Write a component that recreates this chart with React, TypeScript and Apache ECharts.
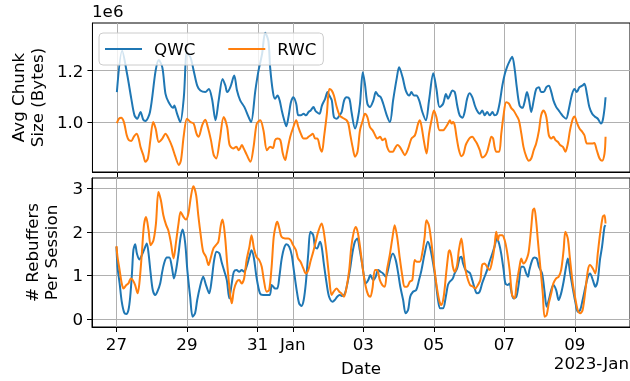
import React, { useEffect, useRef } from "react";
import * as echarts from "echarts";

// x values are days since 2022-12-27 00:00
const xTickDays = [0, 2, 4, 5, 7, 9, 11, 13];
const xTickLabels = ["27", "29", "31", "Jan", "03", "05", "07", "09"];
const chunkTicks = [1.0, 1.2];
const rebufTicks = [0, 1, 2, 3];
const seriesNames = ["QWC", "RWC"];

// Avg chunk size, in units of 1e6 bytes
const qwcChunk = [
  [0, 1.117], [0.15, 1.277], [0.29, 1.187], [0.41, 1.091], [0.5, 1.027], [0.58, 1.014], [0.67, 1.04], [0.75, 1.01],
  [0.81, 1.005], [0.94, 1.04], [1.1, 1.2], [1.19, 1.241], [1.29, 1.213], [1.38, 1.11], [1.47, 1.078], [1.6, 1.056],
  [1.63, 1.065], [1.71, 1.033], [1.8, 1.001], [1.9, 1.097], [1.99, 1.271], [2.09, 1.251], [2.18, 1.2], [2.28, 1.142],
  [2.37, 1.123], [2.51, 1.117], [2.61, 1.129], [2.7, 1.091], [2.8, 1.008], [2.89, 1.085], [3.0, 1.168], [3.08, 1.142],
  [3.13, 1.117], [3.22, 1.136], [3.33, 1.181], [3.41, 1.123], [3.5, 1.085], [3.62, 1.059], [3.74, 1.02], [3.81, 1.001],
  [3.93, 1.123], [4.02, 1.2], [4.12, 1.264], [4.21, 1.347], [4.3, 1.315], [4.35, 1.213], [4.43, 1.117], [4.49, 1.091],
  [4.56, 1.104], [4.62, 1.085], [4.68, 1.046], [4.75, 1.008], [4.81, 0.985], [4.87, 1.021], [4.94, 1.078], [5.01, 1.097],
  [5.09, 1.072], [5.15, 1.027], [5.22, 1.027], [5.3, 1.033], [5.37, 1.027], [5.44, 1.04], [5.5, 1.046], [5.58, 1.059],
  [5.63, 1.046], [5.67, 1.04], [5.75, 1.033], [5.82, 1.065], [5.91, 1.091], [5.98, 1.117], [6.03, 1.104], [6.1, 1.085],
  [6.16, 1.021], [6.24, 1.014], [6.32, 1.027], [6.38, 1.04], [6.45, 1.085], [6.52, 1.097], [6.6, 1.091], [6.66, 1.04],
  [6.76, 0.976], [6.83, 1.008], [6.9, 1.072], [6.98, 1.194], [7.04, 1.149], [7.11, 1.072], [7.18, 1.059], [7.28, 1.085],
  [7.35, 1.117], [7.42, 1.104], [7.49, 1.097], [7.56, 1.072], [7.66, 1.027], [7.75, 1.001], [7.84, 1.085], [7.94, 1.168],
  [8.01, 1.213], [8.11, 1.174], [8.2, 1.123], [8.3, 1.104], [8.36, 1.117], [8.43, 1.104], [8.5, 1.104], [8.58, 1.085],
  [8.67, 1.04], [8.77, 1.008], [8.86, 1.085], [8.98, 1.19], [9.07, 1.129], [9.16, 1.059], [9.26, 1.072], [9.34, 1.11],
  [9.4, 1.091], [9.45, 1.104], [9.52, 1.123], [9.59, 1.117], [9.66, 1.065], [9.73, 1.027], [9.81, 1.018], [9.87, 1.04],
  [9.94, 1.091], [10.01, 1.113], [10.09, 1.097], [10.16, 1.065], [10.22, 1.046], [10.3, 1.033], [10.37, 1.046], [10.44, 1.027],
  [10.51, 1.04], [10.58, 1.027], [10.66, 1.04], [10.72, 1.027], [10.79, 1.033], [10.86, 1.072], [10.94, 1.142], [11.01, 1.187],
  [11.07, 1.213], [11.15, 1.238], [11.22, 1.254], [11.29, 1.206], [11.35, 1.136], [11.43, 1.065], [11.51, 1.056], [11.57, 1.078],
  [11.64, 1.117], [11.7, 1.085], [11.76, 1.04], [11.83, 1.085], [11.9, 1.129], [11.98, 1.136], [12.04, 1.117], [12.11, 1.117],
  [12.19, 1.136], [12.26, 1.142], [12.33, 1.117], [12.39, 1.085], [12.47, 1.059], [12.54, 1.046], [12.61, 1.033], [12.68, 1.021],
  [12.75, 1.014], [12.83, 1.053], [12.92, 1.11], [12.99, 1.129], [13.05, 1.117], [13.13, 1.136], [13.21, 1.142], [13.27, 1.149],
  [13.34, 1.11], [13.41, 1.059], [13.49, 1.033], [13.56, 1.023], [13.65, 1.014], [13.74, 0.995], [13.79, 1.008], [13.84, 1.053],
  [13.87, 1.097],
];

const rwcChunk = [
  [0, 0.997], [0.06, 1.014], [0.12, 1.018], [0.2, 1.001], [0.28, 0.95], [0.34, 0.931], [0.41, 0.928], [0.48, 0.944],
  [0.56, 0.956], [0.62, 0.937], [0.67, 0.905], [0.75, 0.873], [0.81, 0.847], [0.88, 0.86], [0.95, 0.931], [1.03, 1.001],
  [1.1, 0.976], [1.19, 0.924], [1.29, 0.937], [1.38, 0.956], [1.47, 0.937], [1.57, 0.905], [1.66, 0.867], [1.76, 0.835],
  [1.82, 0.854], [1.9, 0.95], [1.99, 1.014], [2.09, 1.001], [2.18, 0.995], [2.26, 0.956], [2.32, 0.944], [2.42, 0.988],
  [2.51, 1.01], [2.58, 0.982], [2.67, 0.931], [2.75, 0.873], [2.82, 0.86], [2.92, 0.931], [3.03, 1.021], [3.13, 0.982],
  [3.2, 0.912], [3.3, 0.899], [3.39, 0.905], [3.46, 0.892], [3.55, 0.912], [3.6, 0.899], [3.69, 0.873], [3.79, 0.847],
  [3.88, 0.905], [3.97, 0.995], [4.07, 1.008], [4.16, 0.969], [4.26, 0.892], [4.35, 0.905], [4.43, 0.901], [4.49, 0.931],
  [4.56, 0.937], [4.64, 0.931], [4.71, 0.879], [4.78, 0.854], [4.82, 0.879], [4.92, 0.944], [5.01, 0.982], [5.09, 1.008],
  [5.15, 0.982], [5.22, 0.956], [5.3, 0.937], [5.37, 0.937], [5.44, 0.944], [5.5, 0.95], [5.56, 0.956], [5.63, 0.937],
  [5.69, 0.937], [5.77, 0.899], [5.82, 0.886], [5.88, 0.944], [5.96, 1.033], [6.03, 1.129], [6.1, 1.123], [6.16, 1.104],
  [6.24, 1.059], [6.32, 1.027], [6.38, 1.02], [6.45, 1.014], [6.52, 1.008], [6.57, 0.995], [6.62, 0.956], [6.69, 0.905],
  [6.76, 0.867], [6.83, 0.886], [6.9, 0.969], [6.98, 1.008], [7.04, 1.033], [7.11, 1.02], [7.18, 0.982], [7.26, 0.969],
  [7.33, 0.95], [7.39, 0.937], [7.47, 0.944], [7.54, 0.931], [7.61, 0.937], [7.67, 0.905], [7.75, 0.886], [7.83, 0.886],
  [7.89, 0.899], [7.96, 0.912], [8.03, 0.905], [8.11, 0.886], [8.17, 0.873], [8.27, 0.899], [8.36, 0.937], [8.46, 0.95],
  [8.55, 0.995], [8.6, 1.008], [8.65, 0.982], [8.71, 0.931], [8.79, 0.879], [8.86, 0.956], [8.93, 1.008], [9.0, 1.046],
  [9.07, 1.02], [9.16, 0.969], [9.26, 0.969], [9.34, 0.982], [9.4, 0.995], [9.45, 1.008], [9.5, 0.995], [9.54, 1.001],
  [9.59, 0.988], [9.64, 0.944], [9.71, 0.892], [9.78, 0.869], [9.84, 0.879], [9.9, 0.912], [9.97, 0.931], [10.03, 0.941],
  [10.09, 0.944], [10.16, 0.931], [10.22, 0.918], [10.3, 0.892], [10.37, 0.864], [10.44, 0.869], [10.51, 0.886], [10.58, 0.924],
  [10.63, 0.944], [10.68, 0.937], [10.72, 0.905], [10.77, 0.886], [10.85, 0.886], [10.91, 0.956], [10.98, 1.033], [11.05, 1.078],
  [11.13, 1.072], [11.19, 1.056], [11.26, 1.046], [11.34, 1.027], [11.41, 1.008], [11.48, 0.956], [11.54, 0.905], [11.62, 0.867],
  [11.69, 0.851], [11.76, 0.86], [11.83, 0.892], [11.9, 0.918], [11.98, 0.969], [12.04, 1.027], [12.11, 1.046], [12.19, 1.02],
  [12.26, 0.95], [12.33, 0.937], [12.39, 0.944], [12.45, 0.931], [12.52, 0.924], [12.58, 0.912], [12.66, 0.905], [12.73, 0.886],
  [12.8, 0.918], [12.86, 0.969], [12.94, 1.014], [12.99, 1.023], [13.05, 1.001], [13.13, 0.976], [13.21, 0.963], [13.27, 0.95],
  [13.34, 0.918], [13.41, 0.918], [13.49, 0.918], [13.55, 0.92], [13.62, 0.892], [13.7, 0.86], [13.77, 0.851], [13.84, 0.879],
  [13.87, 0.944],
];

// Rebuffers per session
const qwcRebuf = [
  [0, 1.656], [0.03, 1.198], [0.09, 0.817], [0.15, 0.397], [0.22, 0.145], [0.28, 0.115], [0.34, 0.206], [0.39, 0.511],
  [0.44, 1.046], [0.48, 1.58], [0.53, 1.717], [0.58, 1.504], [0.65, 1.366], [0.72, 1.466], [0.78, 1.58], [0.86, 1.733],
  [0.91, 1.504], [0.97, 1.046], [1.03, 0.664], [1.1, 0.55], [1.16, 0.626], [1.24, 0.817], [1.29, 1.046], [1.35, 1.275],
  [1.43, 1.412], [1.5, 1.412], [1.57, 1.198], [1.63, 0.931], [1.69, 1.122], [1.76, 1.504], [1.82, 1.885], [1.88, 2.053],
  [1.95, 1.733], [2.01, 1.122], [2.09, 0.511], [2.16, 0.053], [2.23, 0.13], [2.29, 0.435], [2.37, 0.74], [2.46, 0.969],
  [2.54, 0.779], [2.63, 0.588], [2.7, 0.893], [2.77, 1.351], [2.84, 1.542], [2.92, 1.504], [2.98, 1.313], [3.05, 1.122],
  [3.13, 0.893], [3.2, 0.473], [3.27, 0.817], [3.33, 1.084], [3.41, 1.122], [3.48, 1.084], [3.55, 1.122], [3.62, 1.084],
  [3.69, 1.198], [3.77, 1.427], [3.83, 1.58], [3.9, 1.389], [3.97, 0.969], [4.07, 0.588], [4.16, 0.55], [4.26, 0.55],
  [4.35, 0.55], [4.4, 0.779], [4.45, 0.74], [4.49, 0.702], [4.56, 0.702], [4.62, 0.969], [4.68, 1.351], [4.75, 1.618],
  [4.82, 1.717], [4.9, 1.656], [4.97, 1.466], [5.03, 1.122], [5.11, 0.664], [5.18, 0.359], [5.25, 0.298], [5.31, 0.435],
  [5.37, 0.817], [5.44, 1.504], [5.5, 2.0], [5.58, 1.924], [5.63, 1.656], [5.69, 1.618], [5.77, 1.771], [5.82, 1.656],
  [5.88, 1.275], [5.96, 0.817], [6.03, 0.511], [6.13, 0.397], [6.19, 0.435], [6.26, 0.511], [6.33, 0.55], [6.41, 0.527],
  [6.48, 0.588], [6.54, 0.779], [6.62, 1.122], [6.69, 1.504], [6.76, 1.771], [6.83, 1.847], [6.9, 1.58], [6.98, 1.198],
  [7.07, 0.817], [7.14, 0.893], [7.2, 1.008], [7.28, 0.893], [7.35, 0.969], [7.42, 1.122], [7.49, 1.084], [7.56, 1.046],
  [7.64, 0.969], [7.7, 1.122], [7.77, 1.389], [7.84, 1.504], [7.92, 1.351], [7.99, 1.046], [8.05, 0.74], [8.13, 0.435],
  [8.2, 0.13], [8.27, 0.206], [8.33, 0.511], [8.41, 0.626], [8.5, 0.664], [8.58, 0.893], [8.65, 1.122], [8.74, 1.504],
  [8.83, 1.771], [8.9, 1.618], [8.98, 1.275], [9.05, 0.893], [9.12, 0.435], [9.18, 0.244], [9.26, 0.244], [9.34, 0.511],
  [9.4, 0.779], [9.45, 0.855], [9.5, 0.893], [9.54, 0.931], [9.59, 1.046], [9.66, 1.16], [9.73, 1.389], [9.78, 1.427],
  [9.83, 1.275], [9.9, 1.122], [9.97, 1.084], [10.03, 1.046], [10.09, 0.893], [10.16, 0.702], [10.22, 0.588], [10.3, 0.626],
  [10.37, 0.817], [10.44, 0.969], [10.51, 1.122], [10.58, 1.313], [10.66, 1.504], [10.72, 1.656], [10.79, 1.847], [10.85, 1.733],
  [10.91, 1.504], [10.98, 1.122], [11.03, 0.817], [11.1, 0.779], [11.15, 0.817], [11.19, 0.664], [11.26, 0.473], [11.34, 0.511],
  [11.41, 0.817], [11.48, 1.198], [11.54, 1.198], [11.62, 1.046], [11.67, 0.969], [11.71, 1.122], [11.79, 1.351], [11.85, 1.412],
  [11.92, 1.389], [11.98, 1.198], [12.07, 1.046], [12.14, 0.626], [12.2, 0.282], [12.26, 0.435], [12.33, 0.664], [12.39, 0.779],
  [12.47, 0.664], [12.54, 0.435], [12.61, 0.588], [12.68, 0.855], [12.75, 1.198], [12.8, 1.389], [12.86, 1.084], [12.94, 0.702],
  [13.02, 0.359], [13.08, 0.168], [13.15, 0.206], [13.22, 0.435], [13.3, 0.74], [13.37, 0.969], [13.43, 1.046], [13.51, 0.893],
  [13.58, 0.74], [13.65, 0.893], [13.71, 1.351], [13.77, 1.656], [13.84, 2.114], [13.87, 2.153],
];

const rwcRebuf = [
  [0, 1.672], [0.03, 1.427], [0.09, 1.122], [0.15, 0.817], [0.2, 0.702], [0.28, 0.779], [0.34, 0.817], [0.41, 0.931],
  [0.46, 0.893], [0.53, 0.779], [0.6, 0.588], [0.65, 0.817], [0.72, 1.504], [0.78, 2.153], [0.84, 2.343], [0.91, 2.038],
  [0.97, 1.695], [1.05, 1.809], [1.12, 2.191], [1.19, 2.916], [1.26, 2.725], [1.33, 2.382], [1.41, 2.153], [1.47, 2.038],
  [1.54, 1.771], [1.62, 1.389], [1.69, 1.771], [1.76, 2.191], [1.82, 2.458], [1.9, 2.343], [1.97, 2.282], [2.04, 2.42],
  [2.11, 2.801], [2.18, 3.046], [2.26, 2.84], [2.32, 2.382], [2.39, 1.924], [2.46, 1.542], [2.54, 1.427], [2.61, 1.237],
  [2.67, 1.389], [2.75, 1.618], [2.82, 1.695], [2.89, 1.771], [2.96, 2.153], [3.01, 2.282], [3.08, 1.885], [3.14, 1.275],
  [3.22, 0.588], [3.27, 0.359], [3.33, 0.664], [3.41, 0.855], [3.48, 0.893], [3.55, 0.817], [3.62, 0.931], [3.69, 1.351],
  [3.77, 1.656], [3.83, 1.924], [3.9, 1.618], [3.97, 1.427], [4.05, 1.351], [4.12, 1.198], [4.18, 0.893], [4.26, 0.626],
  [4.33, 0.664], [4.4, 1.198], [4.46, 1.885], [4.52, 2.153], [4.56, 2.229], [4.62, 2.076], [4.68, 1.885], [4.78, 1.847],
  [4.87, 1.847], [4.94, 1.809], [5.01, 1.695], [5.09, 1.58], [5.15, 1.389], [5.22, 1.313], [5.3, 1.16], [5.37, 1.046],
  [5.44, 1.122], [5.5, 1.313], [5.58, 1.542], [5.65, 1.771], [5.72, 2.0], [5.82, 2.191], [5.88, 2.0], [5.96, 1.504],
  [6.03, 0.969], [6.1, 0.55], [6.16, 0.626], [6.24, 0.702], [6.32, 0.626], [6.38, 0.588], [6.45, 0.511], [6.52, 0.702],
  [6.6, 1.122], [6.66, 1.656], [6.73, 2.0], [6.79, 2.114], [6.85, 1.962], [6.92, 1.58], [6.99, 1.122], [7.07, 0.74],
  [7.14, 0.55], [7.2, 0.511], [7.26, 0.702], [7.33, 1.122], [7.39, 1.122], [7.47, 0.893], [7.54, 0.779], [7.61, 0.74],
  [7.67, 1.122], [7.75, 1.466], [7.83, 1.885], [7.89, 2.153], [7.96, 1.885], [8.03, 1.427], [8.11, 0.969], [8.17, 0.74],
  [8.24, 0.74], [8.32, 0.855], [8.39, 0.893], [8.46, 1.351], [8.52, 1.313], [8.6, 1.313], [8.67, 1.504], [8.74, 1.885],
  [8.79, 2.267], [8.86, 2.153], [8.93, 1.771], [9.0, 1.275], [9.07, 0.817], [9.15, 0.435], [9.21, 0.321], [9.28, 0.511],
  [9.35, 1.046], [9.42, 1.542], [9.45, 1.58], [9.5, 1.427], [9.54, 1.198], [9.59, 1.084], [9.66, 1.237], [9.71, 1.58],
  [9.78, 1.847], [9.83, 1.58], [9.9, 1.122], [9.97, 0.893], [10.03, 0.779], [10.11, 0.74], [10.18, 0.702], [10.25, 0.779],
  [10.32, 0.893], [10.37, 1.237], [10.44, 1.275], [10.51, 1.198], [10.58, 1.122], [10.66, 1.351], [10.72, 1.656], [10.77, 2.0],
  [10.82, 1.809], [10.86, 1.924], [10.94, 1.924], [11.01, 1.809], [11.07, 1.58], [11.15, 1.122], [11.22, 0.55], [11.29, 0.473],
  [11.35, 0.817], [11.43, 1.198], [11.48, 1.389], [11.54, 1.275], [11.62, 1.351], [11.69, 1.542], [11.76, 2.076], [11.81, 2.496],
  [11.85, 2.534], [11.9, 2.267], [11.95, 1.809], [12.02, 1.198], [12.09, 0.588], [12.14, 0.053], [12.2, 0.092], [12.26, 0.359],
  [12.33, 0.588], [12.39, 0.817], [12.47, 0.931], [12.54, 0.969], [12.61, 1.122], [12.68, 1.58], [12.73, 2.0], [12.8, 1.847],
  [12.86, 1.389], [12.94, 0.817], [13.02, 0.435], [13.08, 0.206], [13.15, 0.13], [13.22, 0.206], [13.3, 0.664], [13.37, 1.122],
  [13.43, 1.237], [13.51, 1.16], [13.58, 1.046], [13.65, 1.504], [13.71, 1.924], [13.79, 2.343], [13.84, 2.382], [13.87, 2.191],
];

const BLUE = "#1f77b4";
const ORANGE = "#ff7f0e";
const FONT = "DejaVu Sans";
const FS = 16.7;

export default function App() {
  const ref = useRef<HTMLDivElement>(null);

  useEffect(() => {
    if (!ref.current) return;
    const chart = echarts.init(ref.current, undefined, { renderer: "svg" });

    const xFmt = (v: number) => {
      const i = xTickDays.indexOf(Math.round(v));
      return i >= 0 ? xTickLabels[i] : "";
    };

    const xAxisBase = (gridIndex: number, showLabels: boolean) => ({
      type: "value",
      gridIndex,
      min: -0.6935,
      max: 14.5635,
      axisLine: { show: true, onZero: false, lineStyle: { color: "#000", width: 1 } },
      axisTick: { show: true, length: 5, inside: false, customValues: xTickDays, lineStyle: { color: "#000", width: 1 } },
      axisLabel: {
        show: showLabels,
        customValues: xTickDays,
        formatter: xFmt,
        fontSize: FS,
        color: "#000",
        fontFamily: FONT,
        margin: 8,
      },
      splitLine: { show: true, lineStyle: { color: "#b0b0b0", width: 1 } },
      ...(showLabels
        ? {
            name: "Date",
            nameLocation: "middle",
            nameGap: 32,
            nameTextStyle: { fontSize: FS, color: "#000", fontFamily: FONT },
          }
        : {}),
    });

    const yAxisBase = (
      gridIndex: number,
      name: string,
      nameGap: number,
      min: number,
      max: number,
      ticks: number[],
      fmt: (v: number) => string
    ) => ({
      type: "value",
      gridIndex,
      min,
      max,
      name,
      nameLocation: "middle",
      nameRotate: 90,
      nameGap,
      nameTextStyle: { fontSize: FS, color: "#000", fontFamily: FONT, lineHeight: 19 },
      axisLine: { show: true, onZero: false, lineStyle: { color: "#000", width: 1 } },
      axisTick: { show: true, length: 5, customValues: ticks, lineStyle: { color: "#000", width: 1 } },
      axisLabel: { customValues: ticks, formatter: fmt, fontSize: FS, color: "#000", fontFamily: FONT, margin: 9 },
      splitLine: { show: true, lineStyle: { color: "#b0b0b0", width: 1 } },
    });

    const line = (name: string, data: number[][], idx: number, color: string) => ({
      type: "line",
      name,
      xAxisIndex: idx,
      yAxisIndex: idx,
      data,
      symbol: "none",
      showSymbol: false,
      smooth: 0.3,
      lineStyle: { width: 2, color },
      itemStyle: { color },
      emphasis: { disabled: true },
    });

    chart.setOption({
      animation: false,
      textStyle: { fontFamily: FONT },
      grid: [
        { left: 92, right: -1, top: 23, height: 149, show: true, borderColor: "#000", borderWidth: 1, backgroundColor: "transparent" },
        { left: 92, right: -1, top: 178, height: 149, show: true, borderColor: "#000", borderWidth: 1, backgroundColor: "transparent" },
      ],
      xAxis: [xAxisBase(0, false), xAxisBase(1, true)],
      yAxis: [
        yAxisBase(0, "Avg Chunk\nSize (Bytes)", 44, 0.8077, 1.3846, chunkTicks, (v: number) => v.toFixed(1)),
        yAxisBase(1, "# Rebuffers\nPer Session", 32, -0.184, 3.236, rebufTicks, (v: number) => String(Math.round(v))),
      ],
      legend: {
        data: seriesNames,
        left: 99,
        top: 33,
        orient: "horizontal",
        icon: "rect",
        itemWidth: 37,
        itemHeight: 2,
        itemGap: 33,
        padding: [7, 7, 7, 6],
        backgroundColor: "rgba(255,255,255,0.8)",
        borderColor: "#cccccc",
        borderWidth: 1,
        borderRadius: 4,
        selectedMode: false,
        textStyle: { fontSize: FS, color: "#000", fontFamily: FONT, lineHeight: 18, padding: [0, 0, 0, 7] },
      },
      graphic: [
        { type: "text", left: 92, top: 2, style: { text: "1e6", fontSize: FS, fill: "#000", fontFamily: FONT } },
        { type: "text", right: 1, top: 354, style: { text: "2023-Jan", fontSize: FS, fill: "#000", fontFamily: FONT } },
      ],
      series: [
        line(seriesNames[0], qwcChunk, 0, BLUE),
        line(seriesNames[1], rwcChunk, 0, ORANGE),
        line(seriesNames[0], qwcRebuf, 1, BLUE),
        line(seriesNames[1], rwcRebuf, 1, ORANGE),
      ],
    });

    return () => chart.dispose();
  }, []);

  return <div ref={ref} style={{ position: "fixed", left: 0, top: 0, width: 630, height: 381 }} />;
}
